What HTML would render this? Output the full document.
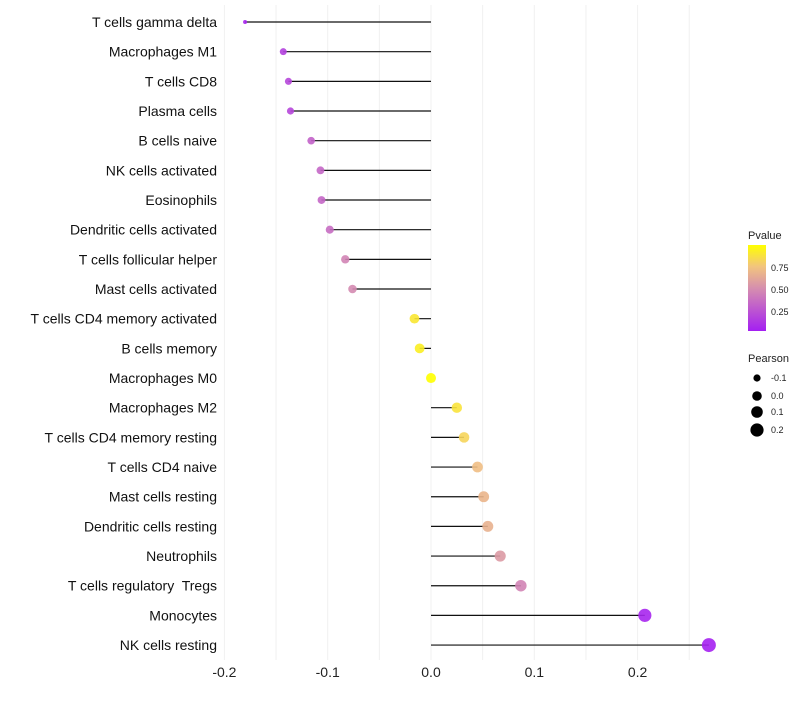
<!DOCTYPE html>
<html><head><meta charset="utf-8"><style>
body{margin:0;background:#fff;font-family:"Liberation Sans",sans-serif}
text{white-space:pre}
</style></head><body>
<svg id="chart" width="800" height="700" xmlns="http://www.w3.org/2000/svg">
<defs><linearGradient id="pg" x1="0" y1="1" x2="0" y2="0">
<stop offset="0" stop-color="#a41ff2"/><stop offset="0.5" stop-color="#d68fae"/><stop offset="0.75" stop-color="#f2c47e"/><stop offset="1" stop-color="#ffff00"/></linearGradient></defs>
<g id="grid"></g><g id="marks"></g><g id="labels"></g>
<g>
<text x="748" y="239" font-size="11" fill="#222">Pvalue</text>
<rect x="748" y="245" width="18" height="86" fill="url(#pg)"/>
<text x="771" y="271" font-size="9" fill="#222">0.75</text>
<text x="771" y="293" font-size="9" fill="#222">0.50</text>
<text x="771" y="315" font-size="9" fill="#222">0.25</text>
</g>
<g>
<text x="748" y="362" font-size="11" fill="#222">Pearson</text>
<circle cx="757" cy="378" r="3.6"/><text x="771" y="381" font-size="9" fill="#222">-0.1</text>
<circle cx="757" cy="396" r="4.8"/><text x="771" y="399" font-size="9" fill="#222">0.0</text>
<circle cx="757" cy="412" r="5.8"/><text x="771" y="415" font-size="9" fill="#222">0.1</text>
<circle cx="757" cy="430" r="6.6"/><text x="771" y="433" font-size="9" fill="#222">0.2</text>
</g>
</svg>
<script>
const categories=["T cells gamma delta","Macrophages M1","T cells CD8","Plasma cells","B cells naive","NK cells activated","Eosinophils","Dendritic cells activated","T cells follicular helper","Mast cells activated","T cells CD4 memory activated","B cells memory","Macrophages M0","Macrophages M2","T cells CD4 memory resting","T cells CD4 naive","Mast cells resting","Dendritic cells resting","Neutrophils","T cells regulatory  Tregs","Monocytes","NK cells resting"];
const pearson=[-0.180,-0.143,-0.138,-0.136,-0.116,-0.107,-0.106,-0.098,-0.083,-0.076,-0.016,-0.011,0.000,0.025,0.032,0.045,0.051,0.055,0.067,0.087,0.207,0.269];
const pvalue=[0.03,0.15,0.18,0.18,0.30,0.32,0.32,0.35,0.45,0.48,0.90,0.93,1.00,0.88,0.82,0.72,0.68,0.66,0.55,0.45,0.03,0.01];
const ticks=[-0.2,-0.1,0.0,0.1,0.2];
const NS="http://www.w3.org/2000/svg";
const xs=v=>431+v*1033;
const ys=i=>22+i*29.67;
const rs=p=>p<-0.17?2:Math.sqrt(Math.max(1,25+89*p));
function col(p){const st=[[0,[164,31,242]],[0.5,[214,143,174]],[0.75,[242,196,126]],[1,[255,255,0]]];
for(let k=1;k<st.length;k++){if(p<=st[k][0]){const a=st[k-1],b=st[k];const t=(p-a[0])/(b[0]-a[0]);return 'rgb('+a[1].map((c,j)=>Math.round(c+(b[1][j]-c)*t)).join(',')+')';}}return 'rgb(255,255,0)';}
function mk(t,at,parent){const e=document.createElementNS(NS,t);for(const k in at)e.setAttribute(k,at[k]);parent.appendChild(e);return e;}
const grid=document.getElementById('grid'),marks=document.getElementById('marks'),labels=document.getElementById('labels');
for(let k=-4;k<=5;k++){const v=k*0.05;const g=mk('line',{x1:xs(v),x2:xs(v),y1:5,y2:660,stroke:'#f0f0f0','stroke-width':1},grid);

}
ticks.forEach(v=>{const t=mk('text',{x:xs(v),y:677,'font-size':14,'text-anchor':'middle',fill:'#222'},labels);t.textContent=v.toFixed(1);

});
categories.forEach((c,i)=>{const y=ys(i);
const l=mk('line',{x1:xs(0),x2:xs(pearson[i]),y1:y,y2:y,stroke:'#111','stroke-width':1.2},marks);


const d=mk('circle',{cx:xs(pearson[i]),cy:y,r:rs(pearson[i]),fill:col(pvalue[i]),opacity:0.9},marks);


const t=mk('text',{x:217,y:y+5,'font-size':14,'text-anchor':'end',fill:'#111'},labels);t.textContent=c;

});
</script>
</body></html>
